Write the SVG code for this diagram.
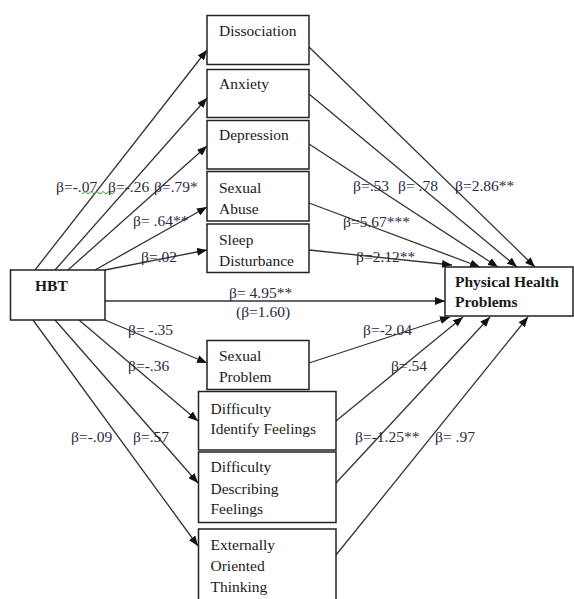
<svg xmlns="http://www.w3.org/2000/svg" width="574" height="599" viewBox="0 0 574 599">
<style>
.box{fill:#fff;stroke:#222;stroke-width:1.5}
.t{font-family:"Liberation Serif","Times New Roman",serif;font-size:15.5px;fill:#1a1a1a}
.b{font-weight:bold}
.lb{font-family:"Liberation Serif","Times New Roman",serif;font-size:15.5px;fill:#2a2a44}
.c{stroke:#333;stroke-width:1.3;fill:none;marker-end:url(#ah)}
</style>
<defs>
<marker id="ah" markerUnits="userSpaceOnUse" markerWidth="11" markerHeight="8" refX="10" refY="4" orient="auto">
<path d="M0,0 L10,4 L0,8 z" fill="#111"/>
</marker>
</defs>
<rect width="574" height="599" fill="#fff"/>
<g id="connectors">
<line class="c" x1="35" y1="270" x2="207" y2="50"/>
<line class="c" x1="55" y1="270" x2="207" y2="98"/>
<line class="c" x1="68" y1="270" x2="207" y2="146"/>
<line class="c" x1="95" y1="270" x2="207" y2="207"/>
<line class="c" x1="105" y1="270" x2="207" y2="250"/>
<line class="c" x1="105" y1="320" x2="207" y2="363"/>
<line class="c" x1="79" y1="320" x2="198" y2="421"/>
<line class="c" x1="55" y1="320" x2="198" y2="483"/>
<line class="c" x1="33" y1="320" x2="198" y2="546"/>
<line class="c" x1="105" y1="301" x2="445" y2="301"/>
<line class="c" x1="309" y1="47" x2="535" y2="267"/>
<line class="c" x1="309" y1="94" x2="517" y2="267"/>
<line class="c" x1="309" y1="144" x2="498" y2="267"/>
<line class="c" x1="309" y1="203" x2="480" y2="267"/>
<line class="c" x1="309" y1="250" x2="452" y2="265"/>
<line class="c" x1="309" y1="363" x2="450" y2="317"/>
<line class="c" x1="336" y1="421" x2="463" y2="317"/>
<line class="c" x1="336" y1="483" x2="490" y2="317"/>
<line class="c" x1="336" y1="555" x2="528" y2="317"/>
</g>
<g id="labels">
<text class="lb" x="56" y="192">β=-.07</text>
<polyline points="82,194 85,191.5 88,194 91,191.5 94,194 97,191.5 100,194 103,191.5 106,194 109,191.5 112,194 115,191.5" fill="none" stroke="#3c9a3c" stroke-width="1"/>
<text class="lb" x="108" y="192">β=-.26</text>
<text class="lb" x="154" y="192">β=.79*</text>
<text class="lb" x="133" y="226">β= .64**</text>
<text class="lb" x="141" y="262">β=.02</text>
<text class="lb" x="353" y="191">β=.53</text>
<text class="lb" x="398" y="191">β= .78</text>
<text class="lb" x="455" y="191">β=2.86**</text>
<text class="lb" x="343" y="227">β=5.67***</text>
<text class="lb" x="356" y="262">β=2.12**</text>
<text class="lb" x="229" y="298">β= 4.95**</text>
<text class="lb" x="236" y="317">(β=1.60)</text>
<text class="lb" x="128" y="335">β= -.35</text>
<text class="lb" x="128" y="371">β=-.36</text>
<text class="lb" x="71" y="442">β=-.09</text>
<text class="lb" x="133" y="442">β=.57</text>
<text class="lb" x="363" y="335">β=-2.04</text>
<text class="lb" x="391" y="371">β=.54</text>
<text class="lb" x="355" y="442">β=-1.25**</text>
<text class="lb" x="435" y="442">β= .97</text>
</g>
<g id="hbt">
<rect class="box" x="10.5" y="270" width="94.5" height="50"/>
<text class="t b" x="35" y="291">HBT</text>
</g>
<g id="php">
<rect class="box" x="445" y="267" width="128" height="49"/>
<text class="t b" x="455" y="287">Physical Health</text>
<text class="t b" x="455" y="307">Problems</text>
</g>
<g id="dissociation">
<rect class="box" x="207" y="15.5" width="102" height="49"/>
<text class="t" x="219" y="36">Dissociation</text>
</g>
<g id="anxiety">
<rect class="box" x="207" y="69.5" width="102" height="48"/>
<text class="t" x="219" y="89">Anxiety</text>
</g>
<g id="depression">
<rect class="box" x="207" y="120.5" width="102" height="48.5"/>
<text class="t" x="219" y="140">Depression</text>
</g>
<g id="sexual-abuse">
<rect class="box" x="207" y="171.5" width="102" height="49.5"/>
<text class="t" x="219" y="193">Sexual</text>
<text class="t" x="219" y="213.5">Abuse</text>
</g>
<g id="sleep">
<rect class="box" x="207" y="224" width="102" height="48.5"/>
<text class="t" x="219" y="245">Sleep</text>
<text class="t" x="219" y="266">Disturbance</text>
</g>
<g id="sexual-problem">
<rect class="box" x="207" y="340.5" width="102" height="49"/>
<text class="t" x="219" y="361">Sexual</text>
<text class="t" x="219" y="382">Problem</text>
</g>
<g id="diff-identify">
<rect class="box" x="198.5" y="391.5" width="137.5" height="58.5"/>
<text class="t" x="210.5" y="413.5">Difficulty</text>
<text class="t" x="210.5" y="433.5">Identify Feelings</text>
</g>
<g id="diff-describe">
<rect class="box" x="198.5" y="452" width="137.5" height="70.5"/>
<text class="t" x="210.5" y="472">Difficulty</text>
<text class="t" x="210.5" y="493.5">Describing</text>
<text class="t" x="210.5" y="514">Feelings</text>
</g>
<g id="external">
<rect class="box" x="198.5" y="529" width="137.5" height="80"/>
<text class="t" x="210.5" y="550">Externally</text>
<text class="t" x="210.5" y="571">Oriented</text>
<text class="t" x="210.5" y="592">Thinking</text>
</g>
</svg>
